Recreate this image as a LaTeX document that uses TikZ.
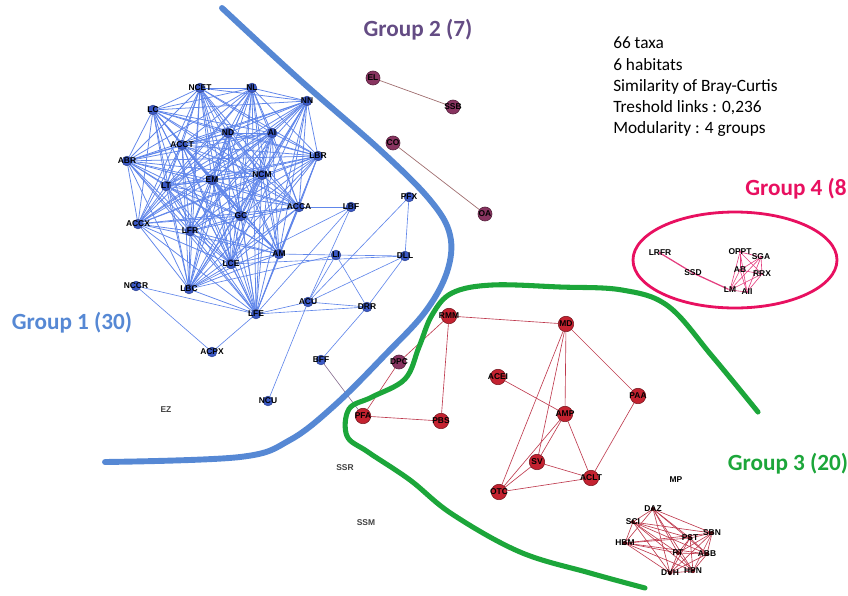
\documentclass[tikz,border=0pt]{standalone}
\usepackage{fontspec}
\setmainfont{Carlito}
\newfontfamily\taxfont{Liberation Sans}

\definecolor{gblue}{RGB}{86,136,212}
\definecolor{gpurple}{RGB}{100,76,132}
\definecolor{ggreen}{RGB}{28,166,58}
\definecolor{gpink}{RGB}{232,16,96}
\definecolor{eblue}{RGB}{96,134,234}
\definecolor{nblue}{RGB}{58,88,196}
\definecolor{ered}{RGB}{190,58,78}
\definecolor{nred}{RGB}{196,34,48}
\definecolor{npurple}{RGB}{136,52,96}
\definecolor{epurple}{RGB}{160,110,112}
\definecolor{epink}{RGB}{228,64,128}

\pgfdeclarelayer{edges}
\pgfsetlayers{edges,main}

\tikzset{
  tax/.style={font=\taxfont\bfseries\fontsize{6}{6}\selectfont, inner sep=0pt},
  bnode/.style={circle, inner sep=0pt, minimum size=7pt, fill=nblue, draw=nblue!70!black, line width=0.3pt, label={[tax]center:#1}},
  rnode/.style={circle, inner sep=0pt, minimum size=11pt, fill=nred, draw=nred!60!black, line width=0.4pt, label={[tax]center:#1}},
  pnode/.style={circle, inner sep=0pt, minimum size=10pt, fill=npurple, draw=npurple!60!black, line width=0.4pt, label={[tax]center:#1}},
  snode/.style={circle, inner sep=0pt, minimum size=3pt, fill=nred!50!black, label={[tax]center:#1}},
  knode/.style={circle, inner sep=0pt, minimum size=2pt, fill=epink, label={[tax]center:#1}},
  lone/.style={tax, text=black!75},
  bedge/.style={eblue, line width=0.55pt},
  redge/.style={ered, line width=0.45pt},
  pedge/.style={epurple, line width=0.5pt},
  kedge/.style={epink, line width=0.45pt},
  glabel/.style={font=\bfseries\fontsize{16.5}{16.5}\selectfont},
}

\begin{document}
\begin{tikzpicture}[x=0.025cm, y=-0.025cm]
  \useasboundingbox (0,0) rectangle (848,595);
  \clip (0,0) rectangle (848,595);

  % group 1
  \foreach \n/\p in {NCET/{200,88}, NL/{252,88}, NN/{307,101}, LC/{153,110},
      ND/{228,133}, AI/{272,133}, ACCT/{182,145}, LBR/{318,156}, ABR/{127,161},
      EM/{212,180}, NCM/{262,175}, LT/{166,186}, ACCA/{299,207}, GC/{241,216},
      ACCX/{138,224}, LFR/{190,231}, AM/{279,254}, LCE/{231,264}, LBC/{189,289},
      LFE/{256,314}, LBF/{351,207}, PFX/{409,197}, LI/{336,255}, DLL/{405,256},
      NCCR/{136,286}, ACU/{308,302}, DRR/{367,307}, ACPX/{212,352},
      BFF/{321,360}, NCU/{268,401}}
    \node[bnode=\n] (\n) at (\p) {};

  % group 2
  \foreach \n/\p in {EL/{373,78}, SSB/{453,107}, CO/{393,143}, OA/{485,214}, DPC/{399,362}}
    \node[pnode=\n] (\n) at (\p) {};

  % group 3
  \foreach \n/\p in {RMM/{449,316}, MD/{566,324}, ACEI/{498,377}, PFA/{363,416},
      PBS/{441,421}, AMP/{565,414}, PAA/{638,396}, SV/{537,462}, ACLT/{591,478},
      OTC/{499,492}}
    \node[rnode=\n] (\n) at (\p) {};
  \foreach \n/\p in {DAZ/{653,509}, SCI/{633,522}, HBM/{625,543}, SBN/{712,533},
      PST/{690,538}, PT/{678,553}, ABB/{707,554}, DVH/{670,573}, HPN/{693,571}}
    \node[snode=\n] (\n) at (\p) {};

  % group 4
  \foreach \n/\p in {LRFR/{660,253}, SSD/{693,273}, OPPT/{740,252}, SGA/{761,257},
      AB/{740,270}, RRX/{762,274}, LM/{730,290}, AII/{747,292}}
    \node[knode=\n] (\n) at (\p) {};

  % taxa with no link
  \node[lone] (EZ) at (166,410) {EZ};
  \node[lone] (SSR) at (345,468) {SSR};
  \node[lone] (SSM) at (366,523) {SSM};
  \node[lone, text=black] (MP) at (676,480) {MP};

  \begin{pgfonlayer}{edges}
    % dense core of group 1
    \foreach \a [count=\i] in {NCET,NL,NN,LC,ND,AI,ACCT,LBR,ABR,EM,NCM,LT,ACCA,GC,ACCX,LFR,AM,LCE,LBC,LFE}
      \foreach \b [count=\j] in {NCET,NL,NN,LC,ND,AI,ACCT,LBR,ABR,EM,NCM,LT,ACCA,GC,ACCX,LFR,AM,LCE,LBC,LFE}
        {\ifnum\j>\i \draw[bedge] (\a) -- (\b); \fi}
    \foreach \a/\b in {ACCA/LBF, LBF/LFE, LBF/ACU, LBF/LBC, PFX/DLL, PFX/ACU,
        LI/DLL, LI/ACU, LI/DRR, LI/LBC, LI/AM, DLL/ACU, DLL/DRR, DLL/LCE,
        ACU/DRR, ACU/LFE, ACU/NCU, LFE/DRR, NCCR/LFE, NCCR/ACPX, LFE/ACPX,
        DRR/BFF}
      \draw[bedge, line width=0.45pt] (\a) -- (\b);
    \draw[line width=0.45pt, epurple!70!eblue] (BFF) -- (PFA);

    % group 2
    \foreach \a/\b in {EL/SSB, CO/OA}
      \draw[pedge] (\a) -- (\b);

    % group 3
    \foreach \a/\b in {RMM/MD, RMM/PBS, RMM/DPC, DPC/PFA, PFA/PBS, MD/AMP,
        MD/SV, MD/OTC, MD/PAA, ACEI/AMP, AMP/SV, AMP/OTC, AMP/ACLT, SV/ACLT,
        SV/OTC, OTC/ACLT, PAA/ACLT}
      \draw[redge] (\a) -- (\b);
    \foreach \a [count=\i] in {DAZ,SCI,HBM,SBN,PST,PT,ABB,DVH,HPN}
      \foreach \b [count=\j] in {DAZ,SCI,HBM,SBN,PST,PT,ABB,DVH,HPN}
        {\ifnum\j>\i \draw[redge] (\a) -- (\b); \fi}

    % group 4
    \draw[kedge, line width=0.9pt] (LRFR) -- (SSD) -- (LM);
    \foreach \a [count=\i] in {OPPT,SGA,AB,RRX,LM,AII}
      \foreach \b [count=\j] in {OPPT,SGA,AB,RRX,LM,AII}
        {\ifnum\j>\i \draw[kedge] (\a) -- (\b); \fi}
  \end{pgfonlayer}

  % group borders
  \draw[gblue, line width=4.2pt, line cap=round] plot[smooth, tension=0.6] coordinates {
    (222,8) (300,80) (380,150) (430,200) (450,235) (447,272) (425,312)
    (385,355) (335,405) (290,440) (240,457) (105,462)};
  \draw[ggreen, line width=3.6pt, line cap=round] plot[smooth, tension=0.6] coordinates {
    (758,412) (712,356) (668,306) (622,290) (560,287) (492,285) (452,293)
    (432,315) (419,347) (405,379) (372,397) (349,409) (347,436) (368,452)
    (410,480) (452,514) (520,552) (590,573) (645,588)};
  \draw[gpink, line width=2pt] (735,260) ellipse [x radius=102, y radius=48];

  % group names
  \node[glabel, text=gblue] (g1) at (72,323) {Group 1 (30)};
  \node[glabel, text=gpurple] (g2) at (418,30) {Group 2 (7)};
  \node[glabel, text=ggreen] (g3) at (788,464) {Group 3 (20)};
  \node[glabel, text=gpink, anchor=east, inner sep=0pt] (g4) at (847,189) {Group 4 (8};

  % network summary
  \node[anchor=north west, align=left, inner sep=0pt,
        font=\fontsize{12.3}{15}\selectfont] (info) at (613,37)
    {66 taxa\\6 habitats\\Similarity of Bray-Curtis\\Treshold links : 0,236\\Modularity : 4 groups};
\end{tikzpicture}
\end{document}
